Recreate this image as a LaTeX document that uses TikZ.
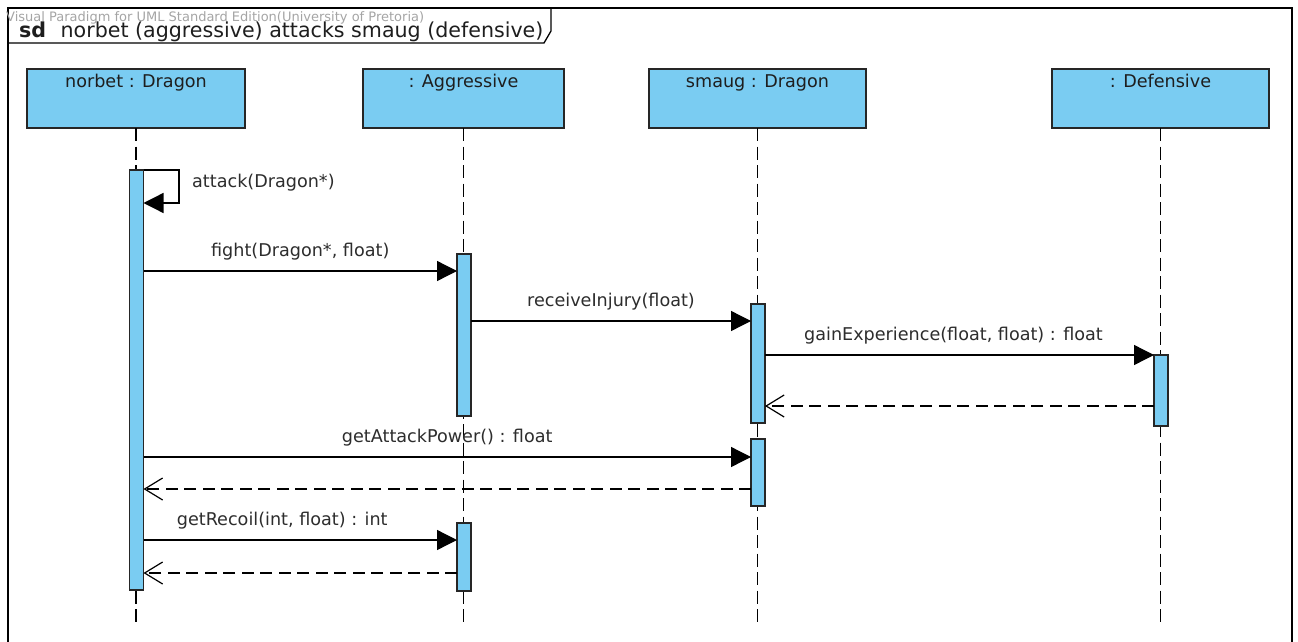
\documentclass[tikz,border=0pt]{standalone}
\usepackage{fontspec}
\setmainfont{DejaVu Sans}
\usetikzlibrary{arrows.meta}
\definecolor{vpblue}{RGB}{122,204,242}
\definecolor{txt}{RGB}{30,30,30}
\definecolor{lbl}{RGB}{45,45,45}
\definecolor{wmark}{RGB}{165,165,165}
\begin{document}
\begin{tikzpicture}[x=1pt,y=-1pt,
  every node/.style={font=\fontsize{17.6}{20}\selectfont, text=txt},
  headbox/.style={draw=black!85, fill=vpblue, line width=1.3pt, minimum height=59pt, inner sep=0pt, outer sep=0pt},
  actbar/.style={draw=black!85, fill=vpblue, line width=1.2pt, minimum width=14pt, inner sep=0pt, outer sep=0pt},
  lifeline/.style={line width=1.6pt, dash pattern=on 13pt off 5.5pt},
  callmsg/.style={line width=1.3pt, -{Triangle[length=20pt,width=20pt]}},
  retmsg/.style={line width=1.2pt, dash pattern=on 12pt off 6.5pt, -{Straight Barb[length=18pt,width=22pt]}},
  msglabel/.style={anchor=base, inner sep=0pt, text=lbl, yshift=15pt}]
\useasboundingbox (0,0) rectangle (1298,642);
\fill[white] (0,0) rectangle (1298,642);
% frame
\draw[line width=1.5pt] (8,642) -- (8,8) -- (1292,8) -- (1292,642);
\draw[line width=1.3pt] (8,43) -- (544,43) -- (551,31) -- (551,8);
\node[anchor=base west, inner sep=0pt, font=\fontsize{13}{15}\selectfont, text=wmark] (wm) at (6,22) {Visual Paradigm for UML Standard Edition(University of Pretoria)};
\node[anchor=base west, inner sep=0pt, font=\fontsize{20.6}{24}\selectfont] (title) at (19,38) {\textbf{sd}\hspace{0.7em}norbet (aggressive) attacks smaug (defensive)};
% heads
\node[headbox, minimum width=218pt] (hN) at (136,98.5) {};
\node[headbox, minimum width=201pt] (hA) at (463.5,98.5) {};
\node[headbox, minimum width=217pt] (hS) at (757.5,98.5) {};
\node[headbox, minimum width=217pt] (hD) at (1160.5,98.5) {};
\node[anchor=base, inner sep=0pt] (tN) at (136,87) {norbet : Dragon};
\node[anchor=base, inner sep=0pt] (tA) at (463.5,87) {: Aggressive};
\node[anchor=base, inner sep=0pt] (tS) at (757.5,87) {smaug : Dragon};
\node[anchor=base, inner sep=0pt] (tD) at (1160.5,87) {: Defensive};
% lifelines
\coordinate (eN) at (136,623);
\coordinate (eA) at (463.5,623);
\coordinate (eS) at (757.5,623);
\coordinate (eD) at (1160.5,623);
\draw[lifeline] (hN.south) -- (eN);
\draw[lifeline] (hA.south) -- (eA);
\draw[lifeline] (hS.south) -- (eS);
\draw[lifeline] (hD.south) -- (eD);
% activation bars
\node[actbar, minimum height=420pt] (bN) at (136.5,380) {};
\node[actbar, minimum height=162pt] (bA1) at (464,335) {};
\node[actbar, minimum height=68pt] (bA2) at (464,557) {};
\node[actbar, minimum height=119pt] (bS1) at (758,363.5) {};
\node[actbar, minimum height=67pt] (bS2) at (758,472.5) {};
\node[actbar, minimum height=71pt] (bD) at (1161,390.5) {};
% self message
\coordinate (sc1) at (179,170);
\coordinate (sc2) at (179,203);
\draw[callmsg] (bN.east |- sc1) -- (sc1) -- (sc2) -- (bN.east |- sc2);
\node[anchor=west, inner sep=0pt, text=lbl] (lAtk) at (192,183) {attack(Dragon*)};
% calls
\draw[callmsg] (bN.east |- 0,271) -- (bA1.west |- 0,271) node[msglabel, midway] (lF) {fight(Dragon*, float)};
\draw[callmsg] (bA1.east |- 0,321) -- (bS1.west |- 0,321) node[msglabel, midway] (lR) {receiveInjury(float)};
\draw[callmsg] (bS1.east |- 0,355) -- (bD.west |- 0,355) node[msglabel, midway, xshift=-6pt] (lG) {gainExperience(float, float) : float};
\draw[retmsg] (bD.west |- 0,406) -- (bS1.east |- 0,406);
\draw[callmsg] (bN.east |- 0,457) -- (bS2.west |- 0,457) node[msglabel, midway] (lP) {getAttackPower() : float};
\draw[retmsg] (bS2.west |- 0,489) -- (bN.east |- 0,489);
\draw[callmsg] (bN.east |- 0,540) -- (bA2.west |- 0,540) node[msglabel, midway, xshift=-18pt] (lC) {getRecoil(int, float) : int};
\draw[retmsg] (bA2.west |- 0,573) -- (bN.east |- 0,573);
\end{tikzpicture}
\end{document}
